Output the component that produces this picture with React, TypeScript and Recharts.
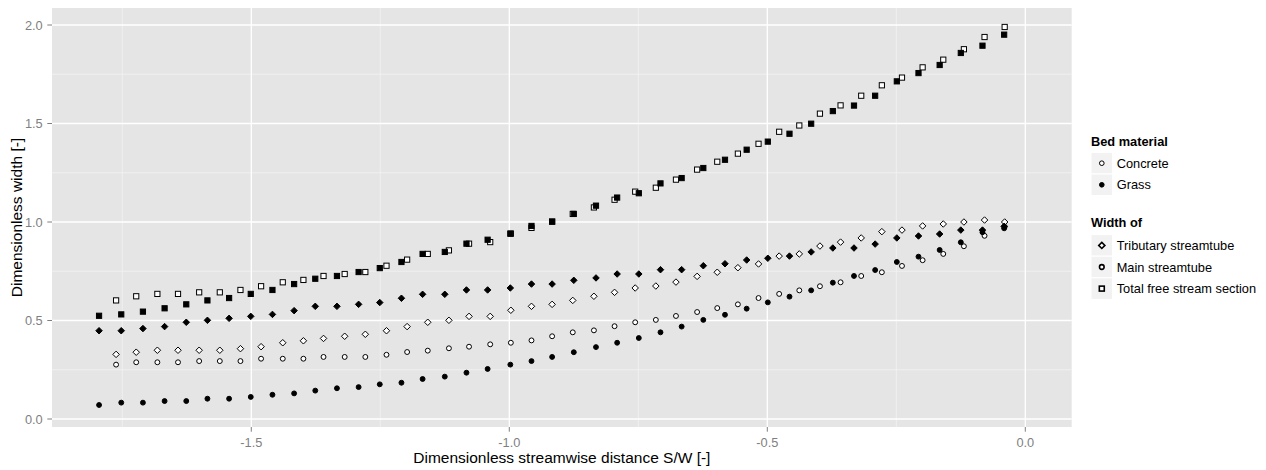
import React from 'react';
import {
  ScatterChart, Scatter, XAxis, YAxis, CartesianGrid,
} from 'recharts';

const FONT = '"Liberation Sans", Arial, Helvetica, sans-serif';

// S/W positions of the measured cross sections
const grassX = [
  -1.795, -1.752, -1.710, -1.668, -1.626, -1.585, -1.543, -1.501, -1.459, -1.417, -1.376,
  -1.334, -1.292, -1.251, -1.209, -1.168, -1.125, -1.083, -1.042, -0.998, -0.957, -0.917,
  -0.875, -0.832, -0.791, -0.749, -0.707, -0.666, -0.624, -0.582, -0.540, -0.499, -0.457,
  -0.415, -0.373, -0.332, -0.291, -0.249, -0.207, -0.166, -0.125, -0.083, -0.041,
];
const concreteX = [
  -1.762, -1.723, -1.682, -1.642, -1.601, -1.561, -1.521, -1.481, -1.439, -1.399, -1.360,
  -1.319, -1.279, -1.238, -1.198, -1.158, -1.117, -1.078, -1.037, -0.997, -0.957, -0.917,
  -0.877, -0.836, -0.796, -0.756, -0.716, -0.677, -0.636, -0.597, -0.557, -0.517, -0.477,
  -0.438, -0.398, -0.358, -0.318, -0.278, -0.239, -0.199, -0.159, -0.119, -0.079, -0.040,
];

// grass bed
const grassTrib = [
  0.448, 0.448, 0.459, 0.469, 0.491, 0.501, 0.511, 0.521, 0.531, 0.550, 0.572,
  0.572, 0.582, 0.591, 0.613, 0.633, 0.633, 0.655, 0.655, 0.665, 0.685, 0.685,
  0.704, 0.716, 0.736, 0.736, 0.758, 0.758, 0.778, 0.788, 0.807, 0.816, 0.827,
  0.848, 0.868, 0.868, 0.888, 0.919, 0.929, 0.939, 0.959, 0.959, 0.978,
];
const grassMain = [
  0.071, 0.083, 0.083, 0.091, 0.091, 0.103, 0.103, 0.112, 0.123, 0.130, 0.144,
  0.156, 0.162, 0.176, 0.184, 0.203, 0.215, 0.235, 0.254, 0.276, 0.294, 0.315,
  0.339, 0.365, 0.387, 0.411, 0.440, 0.469, 0.503, 0.529, 0.560, 0.592, 0.621,
  0.653, 0.692, 0.726, 0.756, 0.797, 0.824, 0.858, 0.897, 0.948, 0.968,
];
const grassTotal = [
  0.524, 0.531, 0.545, 0.562, 0.582, 0.602, 0.614, 0.635, 0.655, 0.685, 0.712,
  0.726, 0.746, 0.766, 0.797, 0.838, 0.848, 0.890, 0.910, 0.941, 0.980, 1.002,
  1.041, 1.083, 1.124, 1.146, 1.196, 1.223, 1.274, 1.316, 1.367, 1.408, 1.448,
  1.499, 1.563, 1.591, 1.641, 1.714, 1.756, 1.797, 1.858, 1.895, 1.951,
];

// concrete bed
const concreteTrib = [
  0.328, 0.339, 0.349, 0.349, 0.349, 0.349, 0.357, 0.367, 0.387, 0.397, 0.409,
  0.420, 0.430, 0.448, 0.469, 0.491, 0.501, 0.521, 0.521, 0.552, 0.572, 0.582,
  0.602, 0.623, 0.643, 0.665, 0.675, 0.695, 0.724, 0.745, 0.768, 0.787, 0.827,
  0.838, 0.878, 0.898, 0.919, 0.951, 0.959, 0.980, 0.990, 1.000, 1.010, 1.000,
];
const concreteMain = [
  0.276, 0.288, 0.288, 0.288, 0.294, 0.294, 0.294, 0.306, 0.306, 0.306, 0.315,
  0.315, 0.315, 0.326, 0.340, 0.347, 0.359, 0.367, 0.379, 0.387, 0.399, 0.420,
  0.440, 0.450, 0.471, 0.491, 0.503, 0.523, 0.543, 0.563, 0.582, 0.614, 0.635,
  0.653, 0.674, 0.694, 0.726, 0.745, 0.777, 0.806, 0.838, 0.877, 0.930, 0.976,
];
const concreteTotal = [
  0.602, 0.623, 0.635, 0.635, 0.643, 0.643, 0.655, 0.674, 0.694, 0.706, 0.726,
  0.736, 0.746, 0.778, 0.809, 0.838, 0.856, 0.890, 0.898, 0.941, 0.970, 1.002,
  1.041, 1.074, 1.113, 1.154, 1.174, 1.215, 1.266, 1.306, 1.347, 1.397, 1.458,
  1.490, 1.550, 1.592, 1.641, 1.694, 1.733, 1.785, 1.824, 1.877, 1.939, 1.990,
];

const xTicks = [-1.5, -1.0, -0.5, 0.0];
const xMinor = [-1.75, -1.25, -0.75, -0.25];
const yTicks = [0, 0.5, 1.0, 1.5, 2.0];
const yMinor = [0.25, 0.75, 1.25, 1.75];

const bedLabels = ['Concrete', 'Grass'];
const widthLabels = ['Tributary streamtube', 'Main streamtube', 'Total free stream section'];

type Kind = 'circle' | 'diamond' | 'square';

function drawMark(kind: Kind, filled: boolean, cx: number, cy: number, sw = 1, s = 1) {
  const fill = filled ? '#000' : '#fff';
  if (kind === 'circle') {
    return <circle cx={cx} cy={cy} r={2.45 * s} fill={fill} stroke="#000" strokeWidth={sw} />;
  }
  if (kind === 'square') {
    const h = 2.6 * s;
    return <rect x={cx - h} y={cy - h} width={2 * h} height={2 * h} fill={fill} stroke="#000" strokeWidth={sw} />;
  }
  const d = 3.25 * s;
  return (
    <polygon
      points={`${cx},${cy - d} ${cx + d},${cy} ${cx},${cy + d} ${cx - d},${cy}`}
      fill={fill} stroke="#000" strokeWidth={sw}
    />
  );
}

const shapeOf = (kind: Kind, filled: boolean) => (props: any) => {
  const { cx, cy } = props;
  if (cx == null || cy == null) return <g />;
  return drawMark(kind, filled, cx, cy);
};

const toPoints = (xs: number[], ys: number[]) => xs.map((x, i) => ({ x, y: ys[i] }));

const series = [
  { key: 'c-trib', kind: 'diamond' as Kind, filled: false, data: toPoints(concreteX, concreteTrib) },
  { key: 'c-main', kind: 'circle' as Kind, filled: false, data: toPoints(concreteX, concreteMain) },
  { key: 'c-total', kind: 'square' as Kind, filled: false, data: toPoints(concreteX, concreteTotal) },
  { key: 'g-trib', kind: 'diamond' as Kind, filled: true, data: toPoints(grassX, grassTrib) },
  { key: 'g-main', kind: 'circle' as Kind, filled: true, data: toPoints(grassX, grassMain) },
  { key: 'g-total', kind: 'square' as Kind, filled: true, data: toPoints(grassX, grassTotal) },
];

function XTitle(props: any) {
  const vb = props.viewBox;
  return (
    <text x={vb.x + vb.width / 2} y={vb.y + 36.3} textAnchor="middle"
      fontFamily={FONT} fontSize={15.5} fill="#000">
      Dimensionless streamwise distance S/W [-]
    </text>
  );
}

function YTitle(props: any) {
  const vb = props.viewBox;
  const x = 21.6;
  const y = vb.y + vb.height / 2;
  return (
    <text x={x} y={y} transform={`rotate(-90, ${x}, ${y})`} textAnchor="middle"
      fontFamily={FONT} fontSize={15.5} fill="#000">
      Dimensionless width [-]
    </text>
  );
}

function LegendOverlay() {
  const keyX = 1091;
  const keyW = 21.6;
  const keyH = 21.6;
  const textX = 1116.7;
  const cx = keyX + keyW / 2;
  const kinds: Kind[] = ['diamond', 'circle', 'square'];
  return (
    <svg width={1266} height={470} style={{ position: 'absolute', left: 0, top: 0, pointerEvents: 'none' }}>
      <g fontFamily={FONT} fontSize={12.8} fill="#000">
        <text x={keyX} y={141} dominantBaseline="central" fontWeight="bold">Bed material</text>
        {bedLabels.map((lab, i) => {
          const top = 152.4 + i * keyH;
          return (
            <g key={lab}>
              <rect x={keyX} y={top} width={keyW} height={keyH} fill="#F2F2F2" stroke="#fff" strokeWidth={1} />
              {drawMark('circle', i === 1, cx, top + keyH / 2, 1, 0.95)}
              <text x={textX} y={top + keyH / 2} dominantBaseline="central">{lab}</text>
            </g>
          );
        })}
        <text x={keyX} y={222.3} dominantBaseline="central" fontWeight="bold">Width of</text>
        {widthLabels.map((lab, i) => {
          const top = 234.6 + i * keyH;
          return (
            <g key={lab}>
              <rect x={keyX} y={top} width={keyW} height={keyH} fill="#F2F2F2" stroke="#fff" strokeWidth={1} />
              {drawMark(kinds[i], false, cx, top + keyH / 2, 1.6, 0.95)}
              <text x={textX} y={top + keyH / 2} dominantBaseline="central">{lab}</text>
            </g>
          );
        })}
      </g>
    </svg>
  );
}

export default function App() {
  return (
    <div style={{ position: 'absolute', left: 0, top: 0, width: 1266, height: 470, background: '#fff' }}>
      <ScatterChart width={1266} height={470} margin={{ top: 8, right: 194.3, bottom: 0, left: 0 }}>
        <CartesianGrid fill="#E5E5E5" stroke="#F2F2F2" strokeWidth={0.8}
          horizontalValues={yMinor} verticalValues={xMinor} />
        <CartesianGrid stroke="#FFFFFF" strokeWidth={1.3}
          horizontalValues={yTicks} verticalValues={xTicks} />
        <XAxis
          type="number" dataKey="x" domain={[-1.8862, 0.0899]} ticks={xTicks}
          allowDataOverflow height={43} axisLine={false}
          tickSize={4.7} tickMargin={6}
          tickLine={{ stroke: '#7F7F7F' }}
          tick={{ fill: '#7F7F7F', fontSize: 12.8, fontFamily: FONT }}
          tickFormatter={(v: number) => v.toFixed(1)}
          label={<XTitle />}
        />
        <YAxis
          type="number" dataKey="y" domain={[-0.0406, 2.0863]} ticks={yTicks}
          allowDataOverflow width={52} axisLine={false}
          tickSize={4.7} tickMargin={4.6}
          tickLine={{ stroke: '#7F7F7F' }}
          tick={{ fill: '#7F7F7F', fontSize: 12.8, fontFamily: FONT }}
          tickFormatter={(v: number) => v.toFixed(1)}
          label={<YTitle />}
        />
        {series.map((s) => (
          <Scatter key={s.key} data={s.data} shape={shapeOf(s.kind, s.filled)} isAnimationActive={false} />
        ))}
      </ScatterChart>
      <LegendOverlay />
    </div>
  );
}
